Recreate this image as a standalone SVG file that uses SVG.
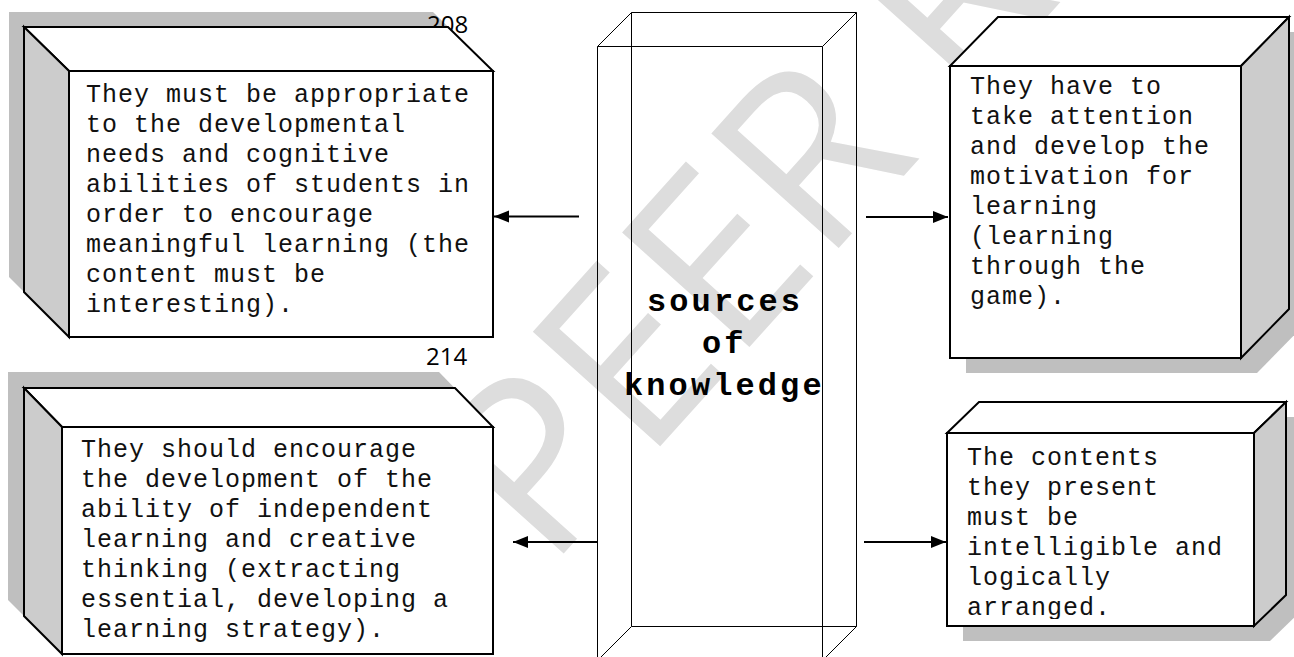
<svg xmlns="http://www.w3.org/2000/svg" width="1294" height="657" viewBox="0 0 1294 657">
<defs>
<style>
.wm{font-family:"Open Sans","Noto Sans",sans-serif;font-size:240px;fill:#dddddd}
.sh{fill:#bfbfbf;stroke:none}
.face{fill:#ffffff;stroke:#000;stroke-width:2;stroke-linejoin:miter}
.side{fill:#cccccc;stroke:#000;stroke-width:2;stroke-linejoin:miter}
.col{fill:none;stroke:#000;stroke-width:1}
.body{font-family:"Courier New","Liberation Mono",monospace;font-size:25px;letter-spacing:1px;fill:#111}
.title{font-family:"Courier New","Liberation Mono",monospace;font-size:32px;font-weight:bold;letter-spacing:3.1px;fill:#000}
.num{font-family:"Open Sans","Noto Sans",sans-serif;font-size:24px;fill:#000}
.conn{stroke:#000;stroke-width:2;fill:none}
</style>
<marker id="ah" markerUnits="userSpaceOnUse" markerWidth="16" markerHeight="14" refX="15" refY="6" orient="auto">
<path d="M0,0 L15,6 L0,12 Z" fill="#000"/>
</marker>
<clipPath id="clipBR"><rect x="948" y="434" width="305" height="185"/></clipPath>
</defs>
<rect x="0" y="0" width="1294" height="657" fill="#ffffff"/>
<g id="watermark">
<text class="wm" transform="translate(548,571) rotate(-48)">PEER REVIEW</text>
</g>
<g id="shadows">
<polygon class="sh" points="9,12 433,12 478,56 478,322 54,322 9,277"/>
<polygon class="sh" points="8,372 439,372 477,411 477,638 46,638 8,600"/>
<polygon class="sh" points="1014,32 1305,32 1305,324 1257,373 966,373 966,81"/>
<polygon class="sh" points="995,417 1302,417 1302,610 1270,641 963,641 963,448"/>
</g>
<text class="num" x="427" y="33">208</text>
<text class="num" x="426" y="365">214</text>
<g id="center">
<line class="col" x1="631.5" y1="12.5" x2="856.5" y2="12.5"/>
<line class="col" x1="631.5" y1="12.5" x2="631.5" y2="626.5"/>
<line class="col" x1="856.5" y1="12.5" x2="856.5" y2="626.5"/>
<line class="col" x1="631.5" y1="626.5" x2="856.5" y2="626.5"/>
<line class="col" x1="597.5" y1="46.5" x2="822.5" y2="46.5"/>
<line class="col" x1="597.5" y1="46.5" x2="597.5" y2="657"/>
<line class="col" x1="822.5" y1="46.5" x2="822.5" y2="657"/>
<line class="col" x1="597.5" y1="46.5" x2="631.5" y2="12.5"/>
<line class="col" x1="822.5" y1="46.5" x2="856.5" y2="12.5"/>
<line class="col" x1="631.5" y1="626.5" x2="597.5" y2="660.5"/>
<line class="col" x1="856.5" y1="626.5" x2="822.5" y2="660.5"/>
<text class="title" x="647" y="311">sources</text>
<text class="title" x="702" y="353">of</text>
<text class="title" x="624" y="395">knowledge</text>
</g>
<g id="box-top-left">
<polygon class="face" points="24,27 448,27 493,71 69,71"/>
<polygon class="side" points="24,27 69,71 69,337 24,292"/>
<rect class="face" x="69" y="71" width="424" height="266"/>
<text class="body" y="101.5">
<tspan x="86">They must be appropriate</tspan>
<tspan x="86" dy="30">to the developmental</tspan>
<tspan x="86" dy="30">needs and cognitive</tspan>
<tspan x="86" dy="30">abilities of students in</tspan>
<tspan x="86" dy="30">order to encourage</tspan>
<tspan x="86" dy="30">meaningful learning (the</tspan>
<tspan x="86" dy="30">content must be</tspan>
<tspan x="86" dy="30">interesting).</tspan>
</text>
</g>
<g id="box-top-right">
<polygon class="face" points="998,17 1289,17 1241,66 950,66"/>
<polygon class="side" points="1241,66 1289,17 1289,309 1241,358"/>
<rect class="face" x="950" y="66" width="291" height="292"/>
<text class="body" y="94">
<tspan x="970">They have to</tspan>
<tspan x="970" dy="30">take attention</tspan>
<tspan x="970" dy="30">and develop the</tspan>
<tspan x="970" dy="30">motivation for</tspan>
<tspan x="970" dy="30">learning</tspan>
<tspan x="970" dy="30">(learning</tspan>
<tspan x="970" dy="30">through the</tspan>
<tspan x="970" dy="30">game).</tspan>
</text>
</g>
<g id="box-bottom-left">
<polygon class="face" points="24,388 455,388 493,427 62,427"/>
<polygon class="side" points="24,388 62,427 62,654 24,616"/>
<rect class="face" x="62" y="427" width="431" height="227"/>
<text class="body" y="457">
<tspan x="81">They should encourage</tspan>
<tspan x="81" dy="30">the development of the</tspan>
<tspan x="81" dy="30">ability of independent</tspan>
<tspan x="81" dy="30">learning and creative</tspan>
<tspan x="81" dy="30">thinking (extracting</tspan>
<tspan x="81" dy="30">essential, developing a</tspan>
<tspan x="81" dy="30">learning strategy).</tspan>
</text>
</g>
<g id="box-bottom-right">
<polygon class="face" points="979,402 1286,402 1254,433 947,433"/>
<polygon class="side" points="1254,433 1286,402 1286,595 1254,626"/>
<rect class="face" x="947" y="433" width="307" height="193"/>
<text class="body" y="465" clip-path="url(#clipBR)">
<tspan x="967">The contents</tspan>
<tspan x="967" dy="30">they present</tspan>
<tspan x="967" dy="30">must be</tspan>
<tspan x="967" dy="30">intelligible and</tspan>
<tspan x="967" dy="30">logically</tspan>
<tspan x="967" dy="30">arranged.</tspan>
</text>
</g>
<g id="connectors">
<line class="conn" x1="579" y1="216.5" x2="494" y2="216.5" marker-end="url(#ah)"/>
<line class="conn" x1="866" y1="217" x2="948" y2="217" marker-end="url(#ah)"/>
<line class="conn" x1="598" y1="542" x2="513" y2="542" marker-end="url(#ah)"/>
<line class="conn" x1="864" y1="542" x2="946" y2="542" marker-end="url(#ah)"/>
</g>
</svg>
